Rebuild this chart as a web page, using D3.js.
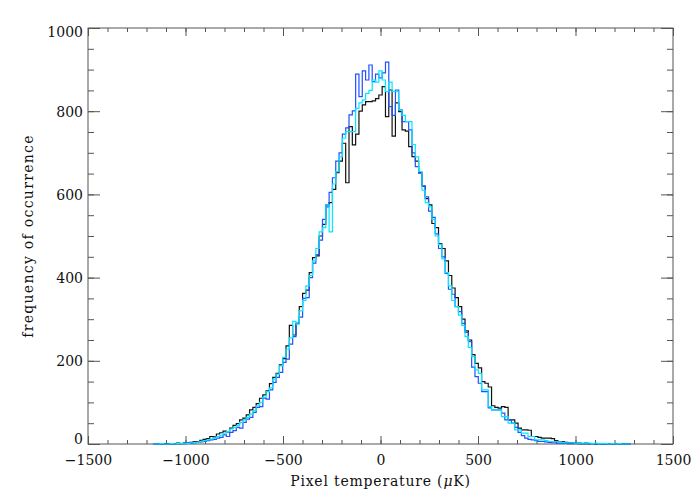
<!DOCTYPE html>
<html><head><meta charset="utf-8">
<script src="https://cdn.jsdelivr.net/npm/d3@7"></script>
<style>
body{margin:0;background:#fff}
text{font-family:"DejaVu Serif",serif;fill:#111}
</style>
</head><body>
<svg id="chart" width="700" height="500"></svg>
<script>
// ---- data ----
const binStart = -1156;   // centre of first bin (μK)
const binWidth = 17;      // bin width (μK)
const xTicks = [-1500, -1000, -500, 0, 500, 1000, 1500];
const yTicks = [0, 200, 400, 600, 800, 1000];
const xLabel = "Pixel temperature (";
const yLabel = "frequency of occurrence";

const blackCounts = [
 0,0,0,1,0,1,0,2,1,3,2,4,6,5,9,11,13,18,17,24,27,31,29,38,45,49,58,62,70,82,88,97,110,118,128,145,160,170,190,205,236,285,262,290,330,362,370,412,448,452,500,528,575,580,612,652,680,723,628,763,719,745,800,815,823,823,825,830,
 839,
 859,787,851,740,820,799,755,752,715,691,680,652,620,590,575,530,520,482,470,440,405,375,352,330,300,272,250,215,194,183,150,146,137,92,88,86,90,88,58,58,50,38,34,34,33,18,18,16,14,14,14,13,8,6,6,4,3,3,2,2,1,2,1,1,0,1,0,0,0,0,0,0,0,0,0
];
const blueCounts = [
 0,0,0,0,0,0,1,0,1,1,2,2,3,4,5,6,8,10,11,14,16,22,18,28,32,40,38,52,60,64,76,88,90,110,108,130,148,160,172,196,204,240,258,290,305,350,352,400,435,455,490,540,570,605,640,680,700,745,760,791,801,889,835,897,875,911,871,889,
 880,
 892,918,811,790,851,803,775,775,755,700,667,651,620,594,560,545,505,470,450,410,372,360,330,318,290,268,246,185,162,146,126,126,87,82,82,82,74,58,58,50,40,28,20,14,11,10,8,6,6,5,4,3,3,2,2,2,1,1,1,0,1,0,0,1,0,0,0,0,0,0,0,0,0,0,0
];
const cyanCounts = [
 0,0,1,0,0,1,0,1,1,2,1,3,4,4,6,8,10,12,14,18,21,26,30,36,40,44,52,58,64,72,80,92,100,112,126,135,156,168,188,208,228,255,295,288,320,345,380,405,440,470,510,520,575,510,625,655,690,735,751,751,751,807,820,827,843,850,875,870,
 897,
 875,847,870,847,847,803,790,775,775,720,690,655,610,580,570,540,500,480,445,412,380,345,330,310,285,258,232,210,178,170,130,130,90,82,82,82,66,66,50,50,34,34,26,26,18,18,10,10,10,8,6,6,6,5,4,3,3,3,2,2,2,2,2,1,2,1,1,1,0,1,0,1,0,0,0
];

const series = [
  {name: "black", color: "#111111", values: blackCounts},
  {name: "blue",  color: "#2050ff", values: blueCounts},
  {name: "cyan",  color: "#00e8ff", values: cyanCounts}
];

// ---- layout ----
const pL = 88, pR = 673, pT = 28, pB = 444;
const svg = d3.select("#chart");
const x = d3.scaleLinear().domain([-1500, 1500]).range([pL, pR]);
const y = d3.scaleLinear().domain([0, 1000]).range([pB, pT]);

svg.append("defs").append("clipPath").attr("id", "clip")
  .append("rect").attr("x", pL).attr("y", pT - 2)
  .attr("width", pR - pL).attr("height", pB - pT + 4);

// ---- axes ----
const axisColor = "#555";
const xMinor = d3.range(-1500, 1501, 100);
const yMinor = d3.range(0, 1001, 50);
const fmt = d3.format("d");

function styleAxis(sel) {
  sel.select(".domain").remove();
  sel.selectAll(".tick line").attr("stroke", axisColor).attr("stroke-width", 1);
  sel.selectAll(".tick text").attr("font-family", "DejaVu Serif, serif").attr("font-size", 14).attr("fill", "#111");
}

// frame
svg.append("rect").attr("x", pL).attr("y", pT)
  .attr("width", pR - pL).attr("height", pB - pT)
  .attr("fill", "none").attr("stroke", axisColor).attr("stroke-width", 1);

// bottom
svg.append("g").attr("transform", `translate(0,${pB})`)
  .call(d3.axisBottom(x).tickValues(xMinor).tickSize(-4).tickFormat("")).call(styleAxis);
svg.append("g").attr("transform", `translate(0,${pB})`)
  .call(d3.axisBottom(x).tickValues(xTicks).tickSize(-8).tickPadding(11).tickFormat(fmt)).call(styleAxis);
// top
svg.append("g").attr("transform", `translate(0,${pT})`)
  .call(d3.axisTop(x).tickValues(xMinor).tickSize(-4).tickFormat("")).call(styleAxis);
svg.append("g").attr("transform", `translate(0,${pT})`)
  .call(d3.axisTop(x).tickValues(xTicks).tickSize(-8).tickFormat("")).call(styleAxis);
// left
svg.append("g").attr("transform", `translate(${pL},0)`)
  .call(d3.axisLeft(y).tickValues(yMinor).tickSize(-6).tickFormat("")).call(styleAxis);
const yl = svg.append("g").attr("transform", `translate(${pL},0)`)
  .call(d3.axisLeft(y).tickValues(yTicks).tickSize(-12).tickPadding(5).tickFormat(fmt)).call(styleAxis);
yl.selectAll(".tick text")
  .attr("dy", d => d === 0 ? "-0.05em" : (d === 1000 ? "0.62em" : "0.36em"));
// right
svg.append("g").attr("transform", `translate(${pR},0)`)
  .call(d3.axisRight(y).tickValues(yMinor).tickSize(-6).tickFormat("")).call(styleAxis);
svg.append("g").attr("transform", `translate(${pR},0)`)
  .call(d3.axisRight(y).tickValues(yTicks).tickSize(-12).tickFormat("")).call(styleAxis);

// ---- step histograms (drawn over the axes, as in the reference) ----
const line = d3.line().x(d => x(d[0])).y(d => y(d[1])).curve(d3.curveStepAfter);
const g = svg.append("g").attr("clip-path", "url(#clip)");
series.forEach(s => {
  const pts = s.values.map((v, i) => [binStart - binWidth / 2 + i * binWidth, v]);
  pts.push([binStart - binWidth / 2 + s.values.length * binWidth, s.values[s.values.length - 1]]);
  g.append("path").datum(pts)
    .attr("d", line)
    .attr("fill", "none")
    .attr("stroke", s.color)
    .attr("stroke-width", 1.2)
    .attr("stroke-linejoin", "miter");
});

// titles
const xt = svg.append("text").attr("x", (pL + pR) / 2).attr("y", 486)
  .attr("text-anchor", "middle").attr("font-size", 14).attr("letter-spacing", 0.8);
xt.append("tspan").text(xLabel);
xt.append("tspan").attr("font-style", "italic").text("μ");
xt.append("tspan").text("K)");

svg.append("text")
  .attr("transform", `translate(33,${(pT + pB) / 2}) rotate(-90)`)
  .attr("text-anchor", "middle").attr("font-size", 14).attr("letter-spacing", 1.3)
  .text(yLabel);
</script>
</body></html>
